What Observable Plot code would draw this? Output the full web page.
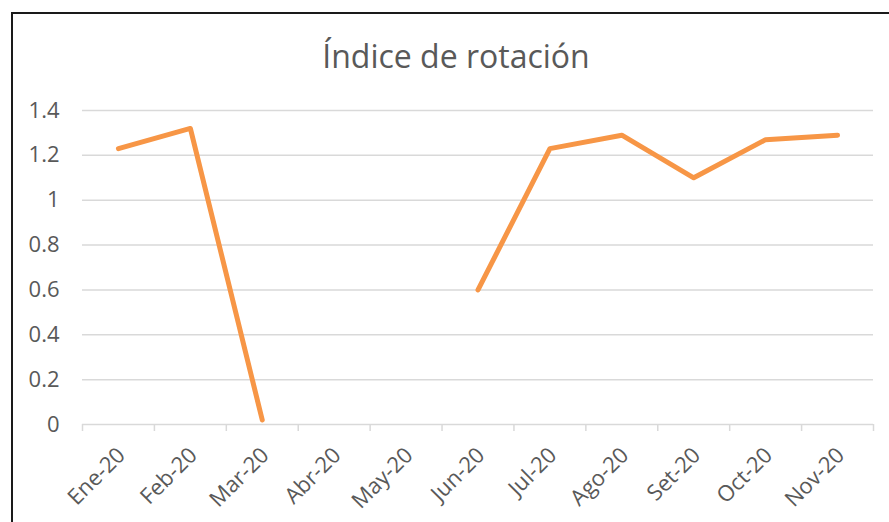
<!DOCTYPE html>
<html>
<head>
<meta charset="utf-8">
<script src="https://cdn.jsdelivr.net/npm/d3@7"></script>
<script src="https://cdn.jsdelivr.net/npm/@observablehq/plot@0.6"></script>
<style>
  html, body { margin: 0; padding: 0; background: #fff; }
  body { width: 889px; height: 522px; position: relative; overflow: hidden; font-family: "Open Sans", Lato, sans-serif; }
  #frame { position: absolute; left: 11px; top: 12px; width: 900px; height: 530px; border-left: 2px solid #1a1a1a; border-top: 2px solid #1a1a1a; box-sizing: border-box; }
  #title { position: absolute; left: 0; top: 0; width: 889px; height: 80px; box-sizing: border-box; padding-left: 23px; padding-top: 40px; text-align: center; font-size: 32px; line-height: 32px; color: #595959; }
  #chart { position: absolute; left: 0; top: 80px; }
</style>
</head>
<body>
<div id="frame"></div>
<div id="title">Índice de rotación</div>
<div id="chart"></div>
<script>
const months = ["Ene-20","Feb-20","Mar-20","Abr-20","May-20","Jun-20","Jul-20","Ago-20","Set-20","Oct-20","Nov-20"];
const values = [1.23, 1.32, 0.02, null, null, 0.60, 1.23, 1.29, 1.10, 1.27, 1.29];
const yTicks = [0, 0.2, 0.4, 0.6, 0.8, 1.0, 1.2, 1.4];
const yTickLabels = ["0","0.2","0.4","0.6","0.8","1","1.2","1.4"];

const rows = months.map((m, i) => ({i, month: m, value: values[i]}));
const boundaries = months.map((m, i) => i - 0.5).concat([months.length - 0.5]);

const plot = Plot.plot({
  width: 889,
  height: 442,
  marginLeft: 82,
  marginRight: 16,
  marginTop: 30,
  marginBottom: 98,
  style: {fontFamily: "'Open Sans', Lato, sans-serif", fontSize: "22px", color: "#595959", background: "transparent"},
  x: {type: "linear", domain: [-0.5, months.length - 0.5]},
  y: {domain: [0, 1.4]},
  marks: [
    Plot.gridY(yTicks, {stroke: "#d9d9d9", strokeOpacity: 1, strokeWidth: 1.5}),
    Plot.axisY(yTicks, {tickSize: 0, tickPadding: 23, tickFormat: (d, i) => yTickLabels[i], label: null, fill: "#595959", fontSize: 22}),
    Plot.axisX(boundaries, {tickSize: 7, tickFormat: () => "", label: null, stroke: "#d9d9d9", strokeWidth: 1.5}),
    Plot.text(rows, {x: "i", y: 0, text: "month", rotate: -45, textAnchor: "end", dx: 3, dy: 27, fill: "#595959", fontSize: 22}),
    Plot.lineY(rows, {x: "i", y: "value", stroke: "#F79646", strokeWidth: 5, strokeLinecap: "round", strokeLinejoin: "round"})
  ]
});
document.getElementById("chart").appendChild(plot);
</script>
</body>
</html>
